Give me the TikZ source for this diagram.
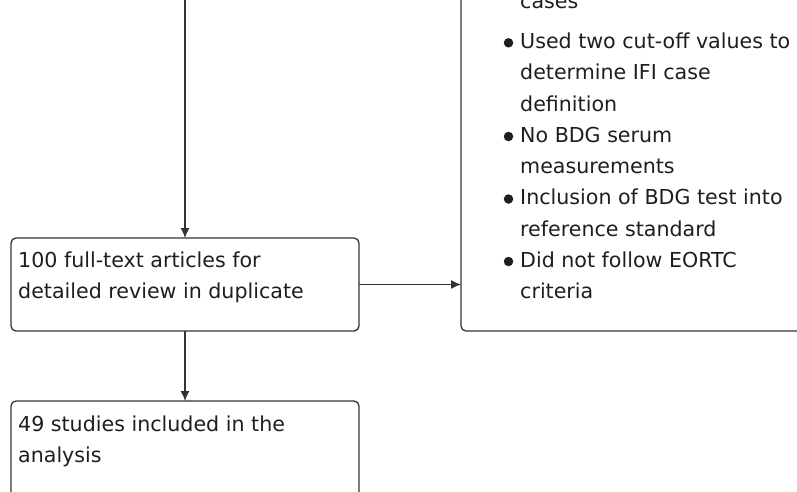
\documentclass[tikz,border=0pt]{standalone}
\usepackage{fontspec}
\setmainfont{DejaVu Sans}
\usetikzlibrary{arrows.meta}
\definecolor{ln}{HTML}{333333}
\definecolor{tx}{HTML}{1E1E1E}
\begin{document}
\begin{tikzpicture}[x=1pt,y=1pt,
  box/.style={draw=ln, line width=1.3pt, rounded corners=5pt, inner sep=0pt, outer sep=0pt},
  txt/.style={anchor=base west, inner sep=0pt, text=tx, font=\fontsize{20.6}{31}\selectfont},
  bul/.style={circle, fill=tx, inner sep=0pt, minimum size=9.5pt},
  conn/.style={draw=ln, line width=1.3pt, -{Latex[length=10pt,width=9pt]}}]
\useasboundingbox (0,0) rectangle (797,-491);
\clip (0,0) rectangle (797,-491);
% boxes
\node[box, anchor=north west, minimum width=348pt, minimum height=93pt] (b1) at (11,-238) {};
\node[box, anchor=north west, minimum width=348pt, minimum height=160pt] (b2) at (11,-401) {};
\node[box, anchor=south west, minimum width=400pt, minimum height=360pt] (rb) at (461,-331) {};
% connectors
\coordinate (top) at (185,5);
\draw[conn] (top) -- (b1.north);
\draw[conn] (b1.south) -- (b2.north);
\draw[conn] (b1.east) -- (b1.east -| rb.west);
% left texts
\node[txt] (t1) at (18,-267.5) {100 full-text articles for};
\node[txt] (t2) at (18,-298.7) {detailed review in duplicate};
\node[txt] (t3) at (18,-431) {49 studies included in the};
\node[txt] (t4) at (18,-462.5) {analysis};
% right texts
\node[txt] (r0) at (520,-8) {cases};
\node[txt] (r1) at (520,-48.5) {Used two cut-off values to};
\node[txt] (r2) at (520,-79.75) {determine IFI case};
\node[txt] (r3) at (520,-111) {definition};
\node[txt] (r4) at (520,-142.25) {No BDG serum};
\node[txt] (r5) at (520,-173.5) {measurements};
\node[txt] (r6) at (520,-204.75) {Inclusion of BDG test into};
\node[txt] (r7) at (520,-236) {reference standard};
\node[txt] (r8) at (520,-267.25) {Did not follow EORTC};
\node[txt] (r9) at (520,-298.5) {criteria};
% bullets
\node[bul] (p1) at (508.5,-42.8) {};
\node[bul] (p2) at (508.5,-136.5) {};
\node[bul] (p3) at (508.5,-199) {};
\node[bul] (p4) at (508.5,-261.5) {};
\end{tikzpicture}
\end{document}
